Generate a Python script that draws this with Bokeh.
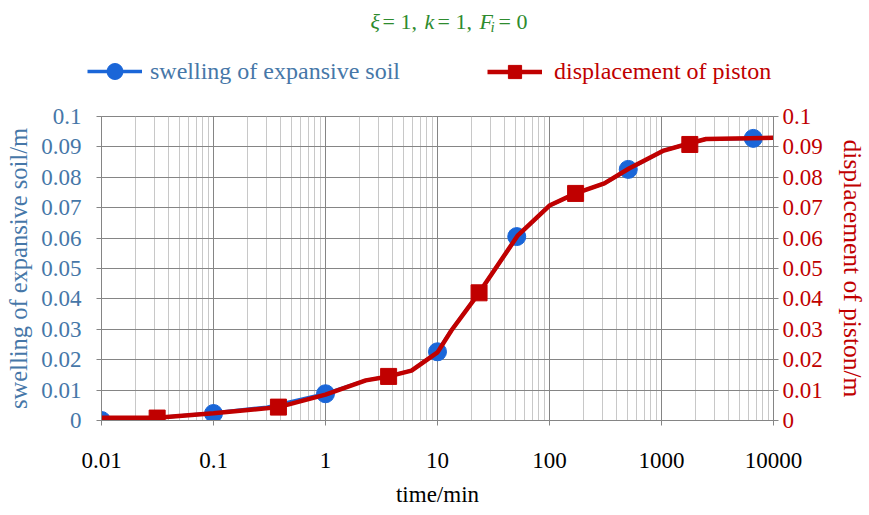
from bokeh.plotting import figure
from bokeh.layouts import column
from bokeh.models import Range1d, LinearAxis, FixedTicker, Legend, LegendItem, Label
from bokeh.embed import file_html
from bokeh.resources import INLINE

# ---------------- data ----------------
# swelling of expansive soil (blue): curve samples and marker points
swell_t = [0.01, 0.03, 0.1, 0.3, 1, 2.3, 3.7, 5.9, 10, 13.3, 23.5, 52, 100, 171, 309, 505, 1047, 1790, 2500, 6600, 10000]
swell_v = [0.0, 0.0008, 0.0025, 0.0044, 0.0088, 0.0132, 0.0146, 0.0165, 0.0226, 0.0297, 0.042, 0.0607, 0.0707, 0.0747, 0.078, 0.0826, 0.0888, 0.0912, 0.0926, 0.0928, 0.093]
swell_mark_t = [0.01, 0.1, 1, 10, 51, 505, 6600]
swell_mark_v = [0.0, 0.0023, 0.0088, 0.0226, 0.0605, 0.0826, 0.0928]

# displacement of piston (red): curve samples and marker points
disp_t = [0.01, 0.0314, 0.1, 0.38, 1, 2.29, 3.66, 5.86, 10, 13.3, 23.5, 52.2, 100, 171, 309, 513, 1047, 1790, 2500, 10000]
disp_v = [0.0009, 0.0009, 0.0024, 0.0044, 0.0085, 0.0132, 0.0145, 0.0164, 0.0224, 0.0296, 0.042, 0.0609, 0.0707, 0.0747, 0.078, 0.0829, 0.0888, 0.0912, 0.0926, 0.093]
disp_mark_t = [0.0314, 0.38, 3.66, 23.5, 171, 1790]
disp_mark_v = [0.0008, 0.0044, 0.0145, 0.042, 0.0747, 0.0908]

x_ticks = [0.01, 0.1, 1, 10, 100, 1000, 10000]
x_tick_labels = ["0.01", "0.1", "1", "10", "100", "1000", "10000"]
y_ticks = [0, 0.01, 0.02, 0.03, 0.04, 0.05, 0.06, 0.07, 0.08, 0.09, 0.1]
y_tick_labels = ["0", "0.01", "0.02", "0.03", "0.04", "0.05", "0.06", "0.07", "0.08", "0.09", "0.1"]

x_label = "time/min"
y_left_label = "swelling of expansive soil/m"
y_right_label = "displacement of piston/m"
name_swell = "swelling of expansive soil"
name_disp = "displacement of piston"

# ---------------- style ----------------
FONT = "Liberation Serif"
BLUE_TXT = "#4677a8"
BLUE = "#1a66d8"
RED = "#c00000"
GREEN = "#2e8b2e"
GRID_DARK = "#858585"
GRID_LIGHT = "#c8c8c8"

# ================= main chart =================
p = figure(width=869, height=415, x_axis_type="log",
           x_range=Range1d(0.01, 10000), y_range=Range1d(0, 0.1),
           output_backend="svg", toolbar_location=None,
           min_border_left=101, min_border_right=92,
           min_border_top=16, min_border_bottom=95)
p.frame_align = False
p.extra_y_ranges = {"r": Range1d(0, 0.1)}
p.outline_line_color = GRID_DARK

minor = [m * 10.0 ** e for e in range(-2, 4) for m in range(2, 10)]
p.xaxis.ticker = FixedTicker(ticks=x_ticks, minor_ticks=minor)
p.xaxis.major_label_overrides = dict(zip(x_ticks, x_tick_labels))
p.xgrid.grid_line_color = GRID_DARK
p.xgrid.minor_grid_line_color = GRID_LIGHT

p.yaxis.ticker = FixedTicker(ticks=y_ticks)
p.yaxis.major_label_overrides = dict(zip(y_ticks, y_tick_labels))
p.ygrid.grid_line_color = GRID_DARK

for ax in (p.xaxis[0], p.yaxis[0]):
    ax.axis_line_color = GRID_DARK
    ax.major_tick_line_color = GRID_DARK
    ax.minor_tick_line_color = None
    ax.major_tick_in = 0
    ax.major_tick_out = 5
    ax.major_label_text_font = FONT
    ax.major_label_text_font_size = "23px"
    ax.axis_label_text_font = FONT
    ax.axis_label_text_font_style = "normal"

p.xaxis.axis_label = x_label
p.xaxis.axis_label_text_font_size = "23px"
p.xaxis.major_label_text_color = "black"
p.xaxis.axis_label_text_color = "black"
p.xaxis.major_label_standoff = 27
p.xaxis.axis_label_standoff = 11

p.yaxis.axis_label = y_left_label
p.yaxis.axis_label_text_font_size = "24.5px"
p.yaxis.major_label_text_color = BLUE_TXT
p.yaxis.axis_label_text_color = BLUE_TXT
p.yaxis.major_label_standoff = 15
p.yaxis.axis_label_standoff = 6

ry = LinearAxis(y_range_name="r", axis_label=y_right_label,
                ticker=FixedTicker(ticks=y_ticks))
ry.major_label_overrides = dict(zip(y_ticks, y_tick_labels))
ry.axis_line_color = GRID_DARK
ry.major_tick_line_color = GRID_DARK
ry.minor_tick_line_color = None
ry.major_tick_in = 0
ry.major_tick_out = 5
ry.major_label_standoff = 4
ry.major_label_text_font = FONT
ry.major_label_text_font_size = "23px"
ry.major_label_text_color = RED
ry.major_label_text_align = "right"
ry.axis_label_text_font = FONT
ry.axis_label_text_font_size = "25.5px"
ry.axis_label_text_font_style = "normal"
ry.axis_label_text_color = RED
ry.axis_label_standoff = 12
p.add_layout(ry, "right")

bl = p.line(swell_t, swell_v, line_color=BLUE, line_width=3.5)
bm = p.scatter(swell_mark_t, swell_mark_v, marker="circle", size=18,
               fill_color=BLUE, line_color=BLUE)
rl = p.line(disp_t, disp_v, line_color=RED, line_width=4.5, y_range_name="r")
rm = p.scatter(disp_mark_t, disp_mark_v, marker="square", size=16,
               fill_color=RED, line_color=RED, y_range_name="r")

# ================= header: title + legend =================
h = figure(width=869, height=100, x_range=Range1d(0, 1), y_range=Range1d(0, 1),
           output_backend="svg", toolbar_location=None, min_border=0,
           x_axis_location=None, y_axis_location=None)
h.frame_align = False
h.grid.visible = False
h.outline_line_color = None

# legend key renderers (their single point lies outside the header's visible range)
off = [-5]
kb_l = h.line(off, off, line_color=BLUE, line_width=3.5)
kb_m = h.scatter(off, off, marker="circle", fill_color=BLUE, line_color=BLUE)
kr_l = h.line(off, off, line_color=RED, line_width=4.5)
kr_m = h.scatter(off, off, marker="square", fill_color=RED, line_color=RED)


def make_legend(label, rends, color, loc, gh, standoff):
    lg = Legend(items=[LegendItem(label=label, renderers=rends)], location=loc,
                orientation="horizontal", glyph_width=55, glyph_height=gh,
                label_text_font=FONT, label_text_font_size="24px",
                label_text_color=color, label_standoff=standoff, label_height=20,
                padding=0, margin=0, spacing=0, border_line_color=None,
                background_fill_alpha=0)
    h.add_layout(lg, "center")


make_legend(name_swell, [kb_l, kb_m], BLUE_TXT, (87, 9), 40, 8)
make_legend(name_disp, [kr_l, kr_m], RED, (487, 12), 33, 12)

title_pieces = [("\u03be", "italic", "22px", 370, 79),
                ("= 1,", "normal", "22px", 382, 79),
                ("k", "italic", "22px", 424, 79),
                ("= 1,", "normal", "22px", 437, 79),
                ("F", "italic", "22px", 479, 79),
                ("i", "italic", "15px", 490, 74),
                ("= 0", "normal", "22px", 498, 79)]
for txt, style, size, sx, sy in title_pieces:
    h.add_layout(Label(x=sx, y=sy, x_units="screen", y_units="screen", text=txt,
                       text_font=FONT, text_font_style=style, text_font_size=size,
                       text_color=GREEN, text_align="left", text_baseline="alphabetic"))

layout = column(h, p, spacing=0)
open("out.html", "w").write(file_html(layout, INLINE))
